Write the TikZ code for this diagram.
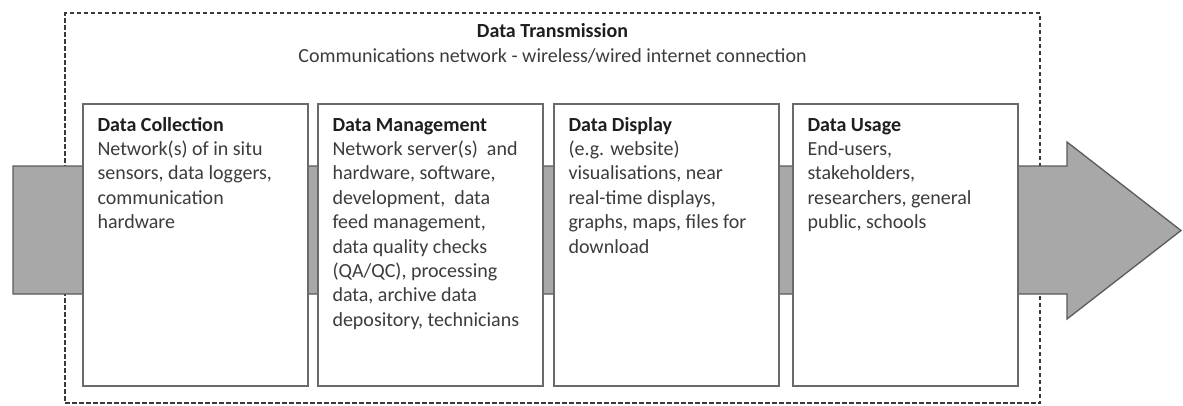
\documentclass[tikz,border=0pt]{standalone}
\usepackage{fontspec}
\setmainfont{Carlito}
\definecolor{boxgray}{HTML}{6A6A6A}
\definecolor{bandfill}{HTML}{A8A8A8}
\definecolor{bandline}{HTML}{5A5A5A}
\definecolor{textgray}{HTML}{3C3C3C}
\definecolor{titlegray}{HTML}{1E1E1E}
\definecolor{dashgray}{HTML}{3A3A3A}
\begin{document}
\begin{tikzpicture}[x=1pt,y=-1pt,
  framebox/.style={draw=dashgray, line width=1.3pt, dash pattern=on 4.5pt off 2.5pt, rectangle, inner sep=0pt, minimum width=975pt, minimum height=390pt},
  bandstyle/.style={draw=bandline, line width=1.3pt, fill=bandfill, line join=miter},
  stagebox/.style={draw=boxgray, line width=1.4pt, fill=white, rectangle, inner sep=0pt, minimum width=225pt, minimum height=282pt},
  stagetext/.style={anchor=north west, inner sep=0pt, align=left, text=textgray, font=\fontsize{20}{24.4}\selectfont},
  headtext/.style={anchor=north, inner sep=0pt, align=center, text=textgray, font=\fontsize{20}{25}\selectfont},
  ttl/.style={}]
\useasboundingbox (0,0) rectangle (1183,405);
% outer dashed frame
\node[framebox] (frame) at (552.5,208) {};
\node[headtext] (trans) at ([yshift=-10pt]frame.north) {\rule{0pt}{15pt}\textcolor{titlegray}{\textbf{Data Transmission}}\\Communications network - wireless/wired internet connection};
% big arrow band
\draw[bandstyle] (13,166) -- (1067,166) -- (1067,142) -- (1181,230.5) -- (1067,319) -- (1067,294) -- (13,294) -- cycle;
% stage boxes
\node[stagebox] (coll) at (195.5,245) {};
\node[stagebox] (mgmt) at (430.5,245) {};
\node[stagebox] (disp) at (666.5,245) {};
\node[stagebox] (usage) at (905.5,245) {};
% stage texts
\node[stagetext] (colltext) at ([xshift=15pt,yshift=-12.5pt]coll.north west) {\rule{0pt}{15pt}\textcolor{titlegray}{\textbf{Data Collection}}\\Network(s) of in situ\\sensors, data loggers,\\communication\\hardware};
\node[stagetext] (mgmttext) at ([xshift=15pt,yshift=-12.5pt]mgmt.north west) {\rule{0pt}{15pt}\textcolor{titlegray}{\textbf{Data Management}}\\Network server(s)\ \ and\\hardware, software,\\development,\ \ data\\feed management,\\data quality checks\\(QA/QC), processing\\data, archive data\\depository, technicians};
\node[stagetext] (disptext) at ([xshift=15pt,yshift=-12.5pt]disp.north west) {\rule{0pt}{15pt}\textcolor{titlegray}{\textbf{Data Display}}\\(e.g. website)\\visualisations, near\\real-time displays,\\graphs, maps, files for\\download};
\node[stagetext] (usagetext) at ([xshift=15pt,yshift=-12.5pt]usage.north west) {\rule{0pt}{15pt}\textcolor{titlegray}{\textbf{Data Usage}}\\End-users,\\stakeholders,\\researchers, general\\public, schools};
\end{tikzpicture}
\end{document}
